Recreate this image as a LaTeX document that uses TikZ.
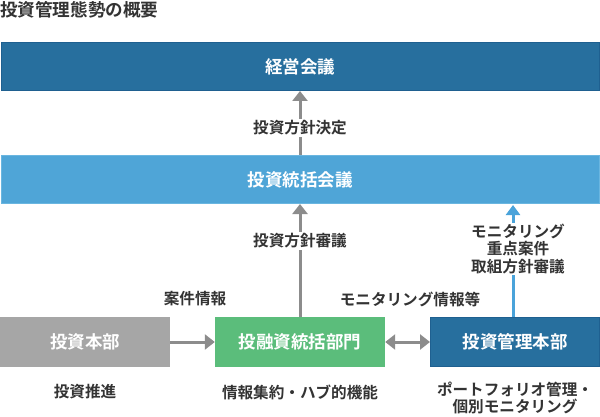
\documentclass[tikz,border=0pt]{standalone}
\usepackage{fontspec}
\setmainfont{Noto Sans CJK JP}[BoldFont={Noto Sans CJK JP Bold}]
\usetikzlibrary{arrows.meta}
\definecolor{dkblue}{HTML}{276F9E}
\definecolor{dkblueb}{HTML}{1F6090}
\definecolor{ltblue}{HTML}{4FA5D7}
\definecolor{ltblueb}{HTML}{6AB6E0}
\definecolor{boxgray}{HTML}{A6A6A6}
\definecolor{boxgreen}{HTML}{5BBD7B}
\definecolor{txt}{HTML}{333333}
\definecolor{arrgray}{HTML}{8C8C8C}
\definecolor{arrblue}{HTML}{4AA3DA}
\tikzset{
  box/.style={rectangle, inner sep=0pt, text=white, font=\fontsize{17.5}{20}\selectfont\bfseries},
  lbl/.style={text=txt, inner sep=2pt, font=\fontsize{15.6}{17.3}\selectfont\bfseries, align=center},
  garrow/.style={draw=arrgray, line width=3pt, -{Triangle[length=10pt,width=15pt]}},
  garrow2/.style={draw=arrgray, line width=3pt, {Triangle[length=10pt,width=15pt]}-{Triangle[length=10pt,width=15pt]}},
  barrow/.style={draw=arrblue, line width=3pt, -{Triangle[length=10pt,width=14pt]}},
}
\begin{document}
\begin{tikzpicture}[x=1pt,y=-1pt]
\useasboundingbox (0,0) rectangle (600,417);
% title
\node[anchor=west, text=txt, inner sep=0pt, font=\fontsize{17.6}{20}\selectfont\bfseries] (title) at (0,10) {投資管理態勢の概要};
% top boxes
\node[box, fill=dkblue, draw=dkblueb, line width=1pt, minimum width=598pt, minimum height=48pt] (keiei) at (300,66.5) {経営会議};
\node[box, fill=ltblue, draw=ltblueb, line width=1pt, minimum width=598pt, minimum height=48pt] (toukatsu) at (300,179.5) {投資統括会議};
% bottom boxes
\node[box, fill=boxgray, minimum width=170pt, minimum height=50pt] (honbu) at (85,342) {投資本部};
\node[box, fill=boxgreen, minimum width=170pt, minimum height=50pt] (yuushi) at (300,342) {投融資統括部門};
\node[box, fill=dkblue, draw=dkblueb, line width=1pt, minimum width=169pt, minimum height=49pt] (kanri) at (515,342) {投資管理本部};
% arrows
\draw[garrow] (toukatsu.north -| keiei) -- (keiei.south);
\draw[garrow] (yuushi.north) -- (toukatsu.south -| yuushi.north);
\coordinate (bstart) at (513,317);
\coordinate (bend) at (513,205);
\draw[barrow] (bstart) -- (bend);
\draw[garrow] (honbu.east) -- (yuushi.west);
\draw[garrow2] (yuushi.east) -- (kanri.west);
% labels on arrows
\node[lbl, fill=white] (l1) at (300,128) {投資方針決定};
\node[lbl, fill=white] (l2) at (300,241) {投資方針審議};
\node[lbl, fill=white, inner sep=1pt] (l3) at (518,249) {モニタリング\\重点案件\\取組方針審議};
\node[lbl] (l4) at (195,299) {案件情報};
\node[lbl] (l5) at (410,299) {モニタリング情報等};
% captions
\node[lbl] (c1) at (85,392) {投資推進};
\node[lbl] (c2) at (300,392) {情報集約・ハブ的機能};
\node[lbl] (c3) at (515,398) {ポートフォリオ管理・\\個別モニタリング};
\end{tikzpicture}
\end{document}
